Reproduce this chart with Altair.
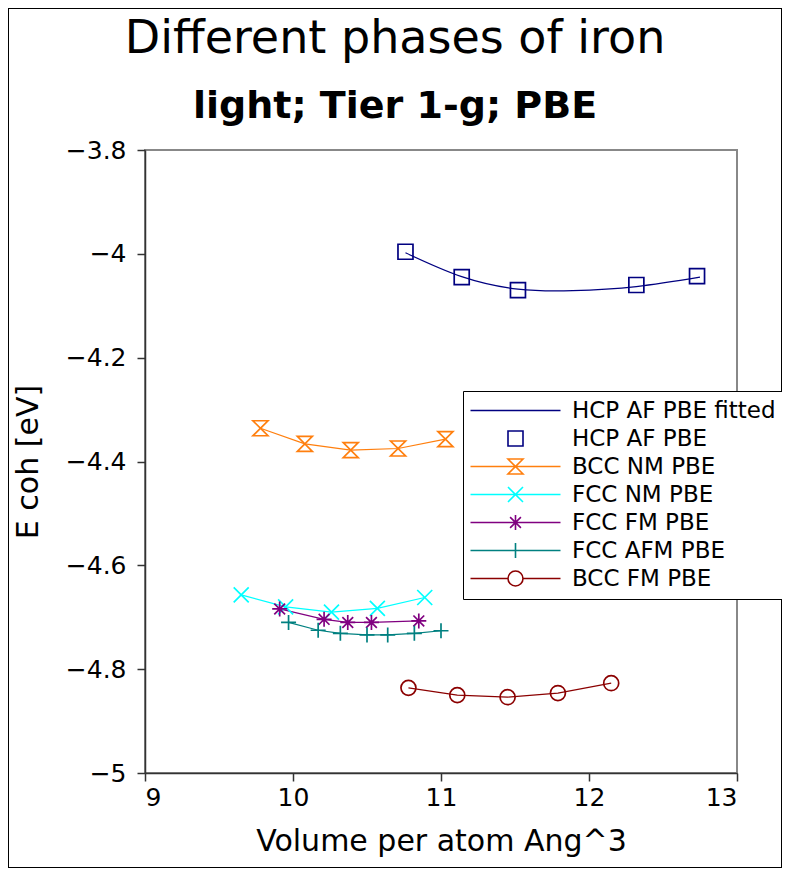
import altair as alt
import pandas as pd

# ---- data ----
series_names = ["HCP AF PBE fitted", "HCP AF PBE", "BCC NM PBE", "FCC NM PBE",
                "FCC FM PBE", "FCC AFM PBE", "BCC FM PBE"]
series_colors = ["#000080", "#000080", "#ff7f0e", "#00ffff", "#800080", "#008080", "#8b0000"]

hcp_fit_x = [10.76, 11.14, 11.52, 11.89, 12.32, 12.75]
hcp_fit_y = [-3.998, -4.044, -4.068, -4.071, -4.063, -4.045]

hcp_x = [10.76, 11.14, 11.52, 12.32, 12.73]
hcp_y = [-3.996, -4.045, -4.070, -4.060, -4.043]

bccnm_x = [9.78, 10.08, 10.39, 10.71, 11.03]
bccnm_y = [-4.336, -4.366, -4.378, -4.375, -4.357]

fccnm_x = [9.65, 9.95, 10.26, 10.57, 10.89]
fccnm_y = [-4.657, -4.680, -4.690, -4.683, -4.662]

fccfm_x = [9.91, 10.21, 10.37, 10.53, 10.85]
fccfm_y = [-4.684, -4.704, -4.710, -4.710, -4.707]

fccafm_x = [9.97, 10.17, 10.32, 10.50, 10.64, 10.82, 11.00]
fccafm_y = [-4.710, -4.725, -4.731, -4.734, -4.734, -4.731, -4.726]

bccfm_x = [10.78, 11.11, 11.45, 11.79, 12.15]
bccfm_y = [-4.836, -4.850, -4.854, -4.846, -4.827]

x_ticks = [9, 10, 11, 12, 13]
y_ticks = [-5, -4.8, -4.6, -4.4, -4.2, -4, -3.8]

# marker paths (unit square -1..1)
SQUARE = "M-1,-1H1V1H-1Z"
HOURGLASS = "M-1,-1H1L-1,1H1Z"
XMARK = "M-1,-1L1,1M-1,1L1,-1"
STAR = "M0,-1V1M-1,0H1M-0.72,-0.72L0.72,0.72M-0.72,0.72L0.72,-0.72"
PLUS = "M0,-1V1M-1,0H1"
CIRCLE = "M-1,0A1,1 0 1,0 1,0A1,1 0 1,0 -1,0"

marker_paths = {
    "HCP AF PBE": SQUARE,
    "BCC NM PBE": HOURGLASS,
    "FCC NM PBE": XMARK,
    "FCC FM PBE": STAR,
    "FCC AFM PBE": PLUS,
    "BCC FM PBE": CIRCLE,
}
LINE = "M-6,0H6"
legend_paths = [
    LINE,
    SQUARE,
    LINE + HOURGLASS,
    LINE + XMARK,
    LINE + STAR,
    LINE + PLUS,
    "M-6,0H-1M1,0H6" + CIRCLE,
]

rows = []
for name, xs, ys in [
    ("HCP AF PBE fitted", hcp_fit_x, hcp_fit_y),
    ("HCP AF PBE", hcp_x, hcp_y),
    ("BCC NM PBE", bccnm_x, bccnm_y),
    ("FCC NM PBE", fccnm_x, fccnm_y),
    ("FCC FM PBE", fccfm_x, fccfm_y),
    ("FCC AFM PBE", fccafm_x, fccafm_y),
    ("BCC FM PBE", bccfm_x, bccfm_y),
]:
    for xv, yv in zip(xs, ys):
        rows.append({"series": name, "vol": xv, "ecoh": yv})
df = pd.DataFrame(rows)

minus_expr = "replace(format(datum.value, '~g'), '-', '\u2212')"
xenc = alt.X("vol:Q", scale=alt.Scale(domain=[9, 13], nice=False, zero=False),
             axis=alt.Axis(values=x_ticks, title="Volume per atom Ang^3",
                           labelExpr=minus_expr, titlePadding=16, labelPadding=4))
yenc = alt.Y("ecoh:Q", scale=alt.Scale(domain=[-5, -3.8], nice=False, zero=False),
             axis=alt.Axis(values=y_ticks, title="E coh [eV]",
                           labelExpr=minus_expr, titlePadding=22, labelPadding=11))

base = alt.Chart(df)
layers = []
color_of = dict(zip(series_names, series_colors))
for name in series_names:
    if name == "HCP AF PBE":
        continue
    interp = "natural" if name == "HCP AF PBE fitted" else "linear"
    layers.append(
        base.transform_filter(alt.datum.series == name)
        .mark_line(color=color_of[name], strokeWidth=1.2, interpolate=interp)
        .encode(x=xenc, y=yenc)
    )
for name, path in marker_paths.items():
    layers.append(
        base.transform_filter(alt.datum.series == name)
        .mark_point(shape=path, size=225, color=color_of[name], filled=False,
                    strokeWidth=1.7, opacity=1)
        .encode(x=xenc, y=yenc)
    )

legend_df = pd.DataFrame({"entry": series_names})
legend_layer = (
    alt.Chart(legend_df)
    .transform_filter("false")
    .mark_point(filled=False, size=225, strokeWidth=1.6, opacity=1)
    .encode(
        color=alt.Color("entry:N", scale=alt.Scale(domain=series_names, range=series_colors),
                        legend=alt.Legend(title=None)),
        shape=alt.Shape("entry:N", scale=alt.Scale(domain=series_names, range=legend_paths),
                        legend=alt.Legend(title=None)),
    )
)

frame = alt.Chart(legend_df).mark_rect(fill=None, stroke="black", strokeWidth=1, clip=False).encode(
    x=alt.value(-136.5), x2=alt.value(592 + 44.5), y=alt.value(-141.5), y2=alt.value(623 + 94.5)
)

chart = (
    alt.layer(frame, *layers, legend_layer)
    .properties(
        width=592,
        height=623,
        autosize=alt.AutoSizeParams(type="none"),
        padding={"left": 137, "top": 142, "right": 45, "bottom": 95},
        title=alt.TitleParams(
            text="Different phases of iron",
            subtitle="light; Tier 1-g; PBE",
            font="DejaVu Sans", fontSize=46, fontWeight="normal", color="black",
            subtitleFont="DejaVu Sans", subtitleFontSize=38, subtitleFontWeight="bold",
            subtitleColor="black", anchor="middle", frame="group", dx=-46,
            offset=-119, subtitlePadding=25,
        ),
    )
    .configure_view(stroke="#888888", strokeWidth=2)
    .configure_axis(
        labelFont="DejaVu Sans", labelFontSize=25, labelColor="black",
        titleFont="DejaVu Sans", titleFontSize=30, titleFontWeight="normal", titleColor="black",
        tickSize=8, tickColor="#333333", tickWidth=1.5,
        domainColor="#333333", domainWidth=1.5, grid=False,
    )
    .configure_legend(
        orient="none", legendX=318, legendY=241,
        labelFont="DejaVu Sans", labelFontSize=23, labelColor="black", labelLimit=400,
        strokeColor="black", fillColor="white", padding=8, cornerRadius=0,
        symbolSize=225, symbolStrokeWidth=1.6, symbolOffset=33, labelOffset=45,
        rowPadding=4, symbolFillColor="transparent",
    )
)

chart.save("out.html", embed_options={"renderer": "svg", "actions": False})
